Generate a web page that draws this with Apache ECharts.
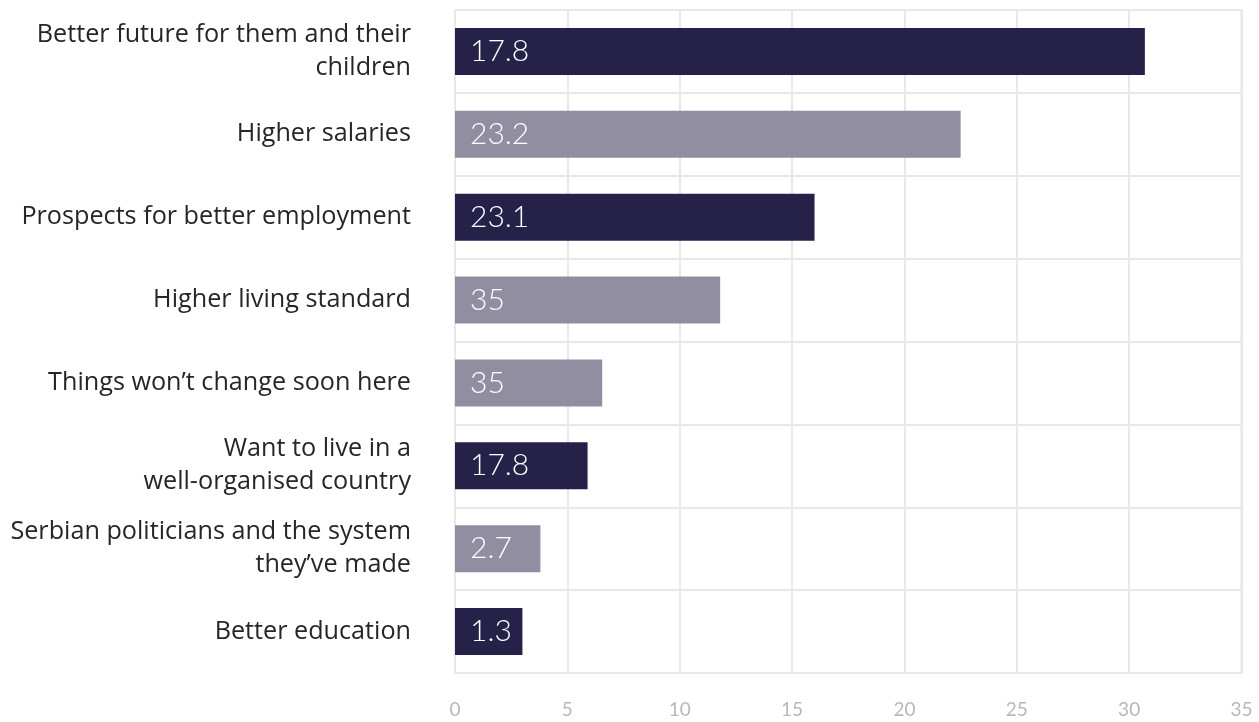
<!DOCTYPE html>
<html>
<head>
<meta charset="utf-8">
<script src="https://cdn.jsdelivr.net/npm/echarts@6/dist/echarts.min.js"></script>
<style>
  html, body { margin: 0; padding: 0; background: #ffffff; }
  #chart { width: 1259px; height: 722px; }
</style>
</head>
<body>
<div id="chart"></div>
<script>
// Reasons given for leaving, top to bottom
const categories = [
  'Better future for them and their\nchildren',
  'Higher salaries',
  'Prospects for better employment',
  'Higher living standard',
  'Things won\u2019t change soon here',
  'Want to live in a\nwell-organised country',
  'Serbian politicians and the system\nthey\u2019ve made',
  'Better education'
];

// Bar lengths on the value axis
const barValues = [30.7, 22.5, 16.0, 11.8, 6.55, 5.9, 3.8, 3.0];

// Figures printed inside each bar
const barLabels = ['17.8', '23.2', '23.1', '35', '35', '17.8', '2.7', '1.3'];

// Value axis ticks
const tickValues = [0, 5, 10, 15, 20, 25, 30, 35];

// Tone per bar: 0 = dark, 1 = muted
const barTones = [0, 1, 0, 1, 1, 0, 1, 0];
const palette = ['#252149', '#918ea1'];

const gridColor = '#e8e8e8';

const chart = echarts.init(document.getElementById('chart'), null, { renderer: 'canvas' });

chart.setOption({
  animation: false,
  backgroundColor: '#ffffff',
  grid: {
    left: 455,
    right: 17.5,
    top: 10,
    bottom: 49,
    show: true,
    borderColor: gridColor,
    borderWidth: 2
  },
  xAxis: {
    type: 'value',
    min: tickValues[0],
    max: tickValues[tickValues.length - 1],
    interval: tickValues[1] - tickValues[0],
    axisLine: { show: false },
    axisTick: { show: false },
    splitLine: { show: true, lineStyle: { color: gridColor, width: 2 } },
    axisLabel: {
      margin: 27,
      color: '#b8b8b8',
      fontFamily: 'Lato',
      fontSize: 19
    }
  },
  yAxis: {
    type: 'category',
    inverse: true,
    data: categories,
    axisLine: { show: true, lineStyle: { color: gridColor, width: 2 } },
    axisTick: { show: false },
    splitLine: { show: true, lineStyle: { color: gridColor, width: 2 } },
    axisLabel: {
      margin: 44,
      color: '#262626',
      fontFamily: 'Open Sans',
      fontSize: 25.2,
      lineHeight: 33,
      align: 'right'
    }
  },
  series: [{
    type: 'bar',
    barWidth: 47,
    data: barValues.map((v, i) => ({
      value: v,
      itemStyle: { color: palette[barTones[i]] }
    })),
    label: {
      show: true,
      position: 'insideLeft',
      distance: 15,
      color: '#ffffff',
      fontFamily: 'Lato',
      fontWeight: 300,
      fontSize: 30,
      formatter: p => barLabels[p.dataIndex]
    }
  }]
});
</script>
</body>
</html>
